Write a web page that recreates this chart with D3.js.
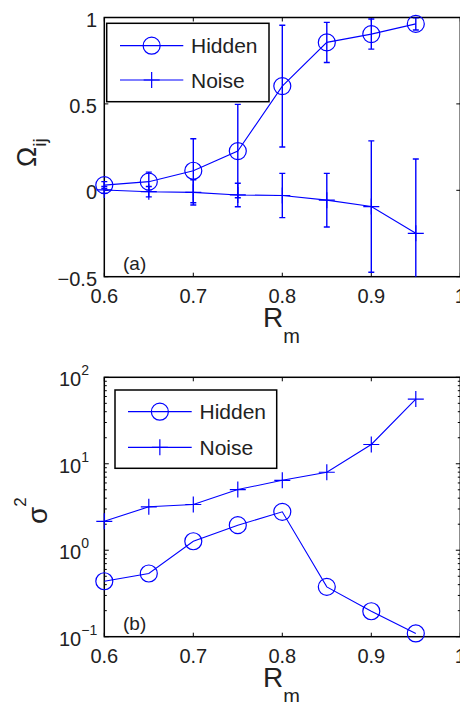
<!DOCTYPE html>
<html>
<head>
<meta charset="utf-8">
<script src="https://cdn.jsdelivr.net/npm/d3@7"></script>
<style>
  body { margin: 0; background: #fff; }
  text { font-family: "Liberation Sans", Arial, sans-serif; fill: #222; }
</style>
</head>
<body>
<div id="chart"></div>
<script>
// R_m values (shared x for both panels)
const rm = [0.6, 0.65, 0.7, 0.75, 0.8, 0.85, 0.9, 0.95];

// panel (a): Omega_ij with symmetric error bars
const omegaHidden    = [0.03, 0.05, 0.113, 0.227, 0.603, 0.856, 0.904, 0.963];
const omegaHiddenErr = [0.02, 0.055, 0.185, 0.27, 0.352, 0.116, 0.087, 0.035];
const omegaNoise     = [0.002, -0.008, -0.012, -0.027, -0.03, -0.057, -0.094, -0.249];
const omegaNoiseErr  = [0.02, 0.03, 0.073, 0.068, 0.128, 0.155, 0.38, 0.43];

// panel (b): sigma^2, log axis
const sigmaHidden = [0.438, 0.538, 1.27, 1.95, 2.78, 0.377, 0.197, 0.109];
const sigmaNoise  = [2.16, 3.18, 3.38, 5.03, 6.44, 7.98, 16.7, 56];

const xTicks = [0.6, 0.7, 0.8, 0.9, 1];
const xTickLabels = ["0.6", "0.7", "0.8", "0.9", "1"];
const omegaTicks = [-0.5, 0, 0.5, 1];
const omegaTickLabels = ["\u22120.5", "0", "0.5", "1"];
const sigmaTicks = [0.1, 1, 10, 100];
const sigmaExp = ["\u22121", "0", "1", "2"];
const seriesNames = ["Hidden", "Noise"];

const W = 460, H = 702;
const blue = "#0000ff";

const svg = d3.select("#chart").append("svg")
    .attr("width", W)
    .attr("height", H);

const x = d3.scaleLinear().domain([0.6, 1]).range([104.3, 460.3]);

const drawPanel = (opt) => {
  const { y, top, bottom, id } = opt;
  const g = svg.append("g");
  const left = x(0.6), right = x(1);

  g.append("clipPath").attr("id", id)
    .append("rect")
      .attr("x", 0).attr("y", top)
      .attr("width", W).attr("height", bottom - top);

  // x ticks, inward on bottom & top
  xTicks.forEach((t, i) => {
    g.append("line").attr("x1", x(t)).attr("x2", x(t))
      .attr("y1", bottom).attr("y2", bottom - 4).attr("stroke", "#000");
    g.append("line").attr("x1", x(t)).attr("x2", x(t))
      .attr("y1", top).attr("y2", top + 4).attr("stroke", "#000");
    g.append("text").attr("x", x(t)).attr("y", bottom + 26.5)
      .attr("text-anchor", "middle").style("font-size", "20px")
      .text(xTickLabels[i]);
  });

  // axis box
  g.append("rect")
    .attr("x", left).attr("y", top)
    .attr("width", right - left).attr("height", bottom - top)
    .attr("fill", "none").attr("stroke", "#000").attr("stroke-width", 1.5);

  // R_m label
  const lab = g.append("text").attr("x", 263).attr("y", bottom + 50)
    .style("font-size", "28px").text("R");
  lab.append("tspan").attr("dy", 16).style("font-size", "20px").text("m");

  return g;
};

const circleMark = (g, cx, cy) => {
  g.append("circle").attr("cx", cx).attr("cy", cy).attr("r", 8.5)
    .attr("fill", "none").attr("stroke", blue).attr("stroke-width", 1.2);
};
const plusMark = (g, cx, cy) => {
  g.append("path")
    .attr("d", `M${cx - 8},${cy}H${cx + 8}M${cx},${cy - 8}V${cy + 8}`)
    .attr("stroke", blue).attr("stroke-width", 1.2).attr("fill", "none");
};

const legend = (g, bx, by, bw, bh, lx1, lx2, rows, tx) => {
  g.append("rect").attr("x", bx).attr("y", by).attr("width", bw).attr("height", bh)
    .attr("fill", "#fff").attr("stroke", "#000").attr("stroke-width", 1.5);
  seriesNames.forEach((name, i) => {
    g.append("line").attr("x1", lx1).attr("x2", lx2)
      .attr("y1", rows[i]).attr("y2", rows[i])
      .attr("stroke", blue).attr("stroke-width", 1.2);
    const mx = (lx1 + lx2) / 2;
    if (i === 0) circleMark(g, mx, rows[i]); else plusMark(g, mx, rows[i]);
    g.append("text").attr("x", tx).attr("y", rows[i] + 7.5)
      .style("font-size", "21px").text(name);
  });
};

// ---------- panel (a) ----------
const ya = d3.scaleLinear().domain([-0.5, 1]).range([276.7, 17.5]);
const ga = drawPanel({ y: ya, top: 17.5, bottom: 276.7, id: "clipA" });

omegaTicks.forEach((t, i) => {
  ga.append("line").attr("x1", x(0.6)).attr("x2", x(0.6) + 4)
    .attr("y1", ya(t)).attr("y2", ya(t)).attr("stroke", "#000");
  ga.append("line").attr("x1", x(1)).attr("x2", x(1) - 4)
    .attr("y1", ya(t)).attr("y2", ya(t)).attr("stroke", "#000");
  ga.append("text").attr("x", 97).attr("y", ya(t) + 9)
    .attr("text-anchor", "end").style("font-size", "20px")
    .text(omegaTickLabels[i]);
});

const lineA = d3.line().x((d, i) => x(rm[i])).y(d => ya(d));
const plotA = ga.append("g").attr("clip-path", "url(#clipA)");

const errBars = (vals, errs) => {
  vals.forEach((v, i) => {
    const cx = x(rm[i]), y1 = ya(v - errs[i]), y2 = ya(v + errs[i]);
    plotA.append("path")
      .attr("d", `M${cx},${y1}V${y2}M${cx - 3},${y1}H${cx + 3}M${cx - 3},${y2}H${cx + 3}`)
      .attr("stroke", blue).attr("stroke-width", 1.4).attr("fill", "none");
  });
};
errBars(omegaHidden, omegaHiddenErr);
errBars(omegaNoise, omegaNoiseErr);

plotA.append("path").datum(omegaHidden).attr("d", lineA)
  .attr("fill", "none").attr("stroke", blue).attr("stroke-width", 1.1);
plotA.append("path").datum(omegaNoise).attr("d", lineA)
  .attr("fill", "none").attr("stroke", blue).attr("stroke-width", 1.1);
omegaHidden.forEach((v, i) => circleMark(ga, x(rm[i]), ya(v)));
omegaNoise.forEach((v, i) => plusMark(ga, x(rm[i]), ya(v)));

legend(ga, 106.7, 23.3, 162.3, 78.4, 120, 183.3, [45.7, 80], 191);

ga.append("text").attr("x", 123).attr("y", 270).style("font-size", "19px").text("(a)");

const omegaLab = ga.append("text")
  .attr("transform", "translate(36,167) rotate(-90)")
  .style("font-size", "27px").text("\u03A9");
omegaLab.append("tspan").attr("dy", 10).style("font-size", "19px").text("ij");

// ---------- panel (b) ----------
const yb = d3.scaleLog().domain([0.1, 100]).range([636.7, 377.3]);
const gb = drawPanel({ y: yb, top: 377.3, bottom: 636.7, id: "clipB" });

sigmaTicks.forEach((t, i) => {
  gb.append("line").attr("x1", x(0.6)).attr("x2", x(0.6) + 4.5)
    .attr("y1", yb(t)).attr("y2", yb(t)).attr("stroke", "#000");
  gb.append("line").attr("x1", x(1)).attr("x2", x(1) - 4.5)
    .attr("y1", yb(t)).attr("y2", yb(t)).attr("stroke", "#000");
  const tl = gb.append("text").attr("x", 59).attr("y", yb(t) + 9)
    .style("font-size", "20px").text("10");
  tl.append("tspan").attr("dy", -11).style("font-size", "14px").text(sigmaExp[i]);
  if (i < sigmaTicks.length - 1) {
    for (let k = 2; k <= 9; k++) {
      const v = t * k;
      gb.append("line").attr("x1", x(0.6)).attr("x2", x(0.6) + 2.5)
        .attr("y1", yb(v)).attr("y2", yb(v)).attr("stroke", "#000");
      gb.append("line").attr("x1", x(1)).attr("x2", x(1) - 2.5)
        .attr("y1", yb(v)).attr("y2", yb(v)).attr("stroke", "#000");
    }
  }
});

const lineB = d3.line().x((d, i) => x(rm[i])).y(d => yb(d));
const plotB = gb.append("g").attr("clip-path", "url(#clipB)");
plotB.append("path").datum(sigmaHidden).attr("d", lineB)
  .attr("fill", "none").attr("stroke", blue).attr("stroke-width", 1.1);
plotB.append("path").datum(sigmaNoise).attr("d", lineB)
  .attr("fill", "none").attr("stroke", blue).attr("stroke-width", 1.1);
sigmaHidden.forEach((v, i) => circleMark(gb, x(rm[i]), yb(v)));
sigmaNoise.forEach((v, i) => plusMark(gb, x(rm[i]), yb(v)));

legend(gb, 115, 390, 161.7, 78.3, 128, 191.7, [411.7, 447.3], 199.5);

gb.append("text").attr("x", 123).attr("y", 630).style("font-size", "19px").text("(b)");

const sigmaLab = gb.append("text")
  .attr("transform", "translate(47,524) rotate(-90)")
  .style("font-size", "28px").text("\u03C3");
sigmaLab.append("tspan").attr("dy", -21).style("font-size", "17px").text("2");
</script>
</body>
</html>
